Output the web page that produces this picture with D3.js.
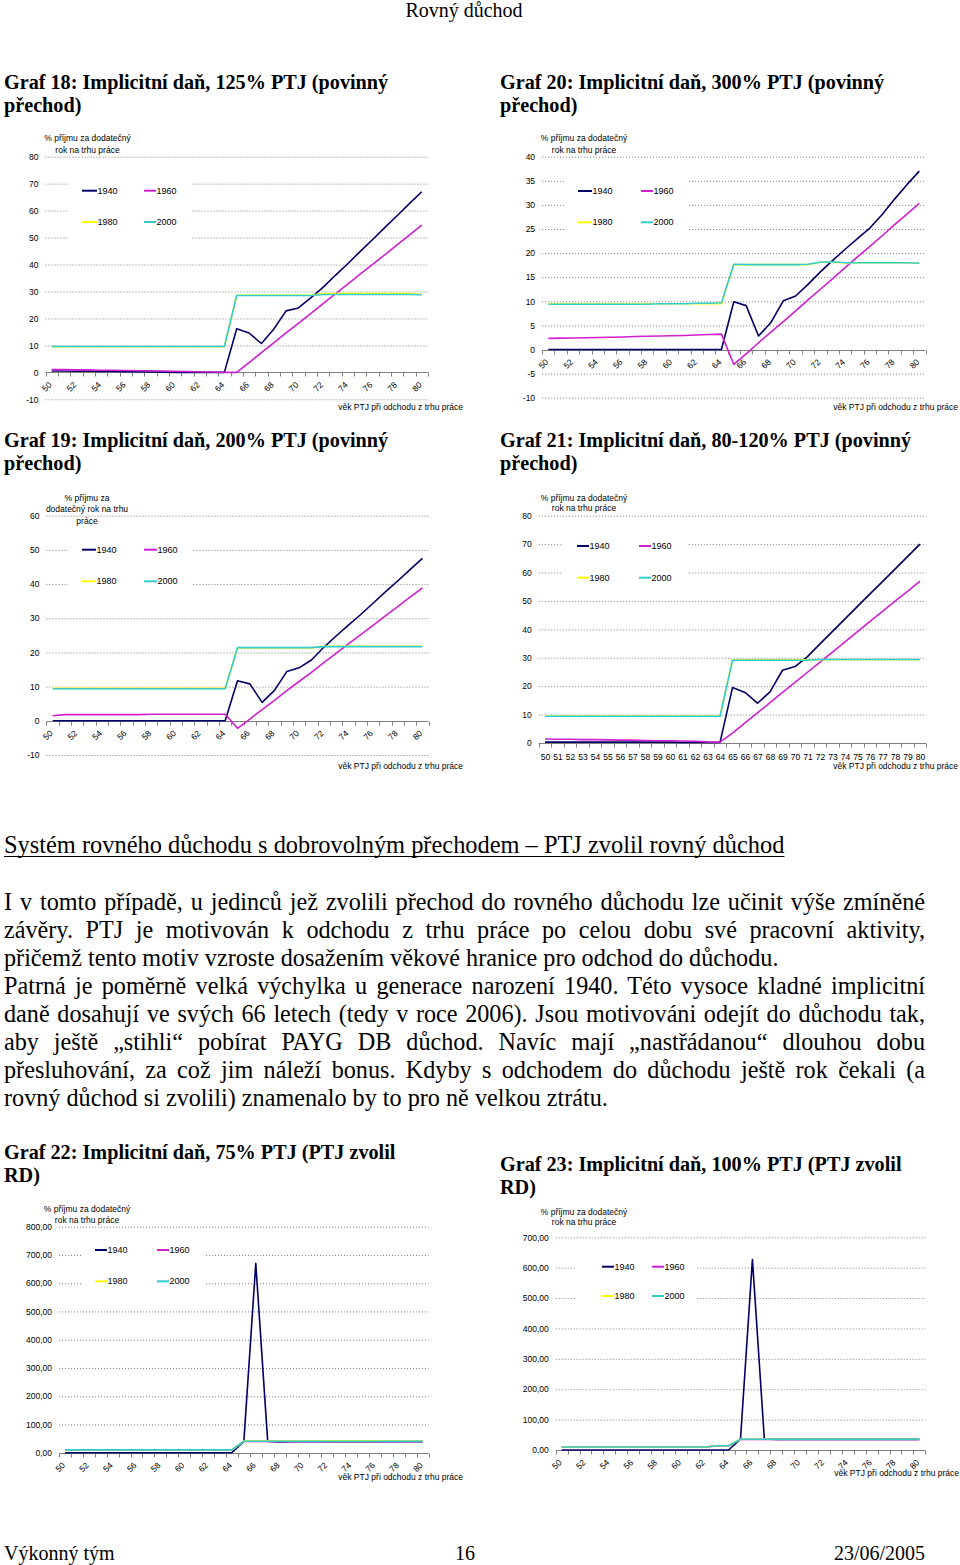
<!DOCTYPE html>
<html>
<head>
<meta charset="utf-8">
<script src="https://cdnjs.cloudflare.com/ajax/libs/d3/7.8.5/d3.min.js"></script>
<style>
  body { margin: 0; background: #fff; }
  svg { display: block; }
</style>
</head>
<body>
<script>
const pageWidth = 960;
const pageHeight = 1565;

const serifFont = '"Liberation Serif", "Times New Roman", serif';
const sansFont = '"Liberation Sans", Arial, sans-serif';

// categories (age when leaving the labour market)
const ages = [50, 51, 52, 53, 54, 55, 56, 57, 58, 59, 60, 61, 62, 63, 64, 65,
  66, 67, 68, 69, 70, 71, 72, 73, 74, 75, 76, 77, 78, 79, 80];
const evenAges = [50, 52, 54, 56, 58, 60, 62, 64, 66, 68, 70, 72, 74, 76, 78, 80];

const seriesNames = ['1940', '1960', '1980', '2000'];
const seriesColors = ['#000066', '#d11fd1', '#ffff00', '#33cccc'];

// Graf 18: 125% PTJ
const g18s1940 = [0.5, 0.5, 0.4, 0.4, 0.3, 0.3, 0.2, 0.2, 0.1, 0.1, 0, 0, 0, 0, 0,
  16.2, 14.6, 10.7, 16.0, 22.8, 23.9, 27.6, 31.5, 36.0, 40.3, 44.8, 49.2, 53.7, 58.1, 62.6, 67.0];
const g18s1960 = [1.0, 1.0, 0.9, 0.9, 0.8, 0.8, 0.7, 0.6, 0.6, 0.5, 0.4, 0.3, 0.2, 0.1, 0.0,
  0.0, 3.6, 7.3, 10.9, 14.6, 18.2, 21.8, 25.5, 29.1, 32.7, 36.4, 40.0, 43.6, 47.3, 50.9, 54.6];
const g18s1980 = [9.5, 9.5, 9.5, 9.5, 9.5, 9.5, 9.5, 9.5, 9.5, 9.5, 9.5, 9.5, 9.5, 9.5, 9.5,
  28.6, 28.6, 28.6, 28.6, 28.6, 28.6, 28.6, 29.2, 29.2, 29.2, 29.2, 29.2, 29.2, 29.2, 29.2, 28.9];
const g18s2000 = [9.6, 9.6, 9.6, 9.6, 9.6, 9.6, 9.6, 9.6, 9.6, 9.6, 9.6, 9.6, 9.6, 9.6, 9.6,
  28.5, 28.5, 28.5, 28.5, 28.5, 28.5, 28.5, 28.9, 28.9, 28.9, 28.9, 28.9, 28.9, 28.9, 28.9, 28.8];

// Graf 20: 300% PTJ
const g20s1940 = [0, 0, 0, 0, 0, 0, 0, 0, 0, 0, 0, 0, 0, 0, 0,
  9.9, 9.1, 2.8, 5.6, 10.1, 11.1, 13.5, 16.1, 18.5, 20.8, 23.0, 25.2, 28.0, 31.2, 34.2, 37.0];
const g20s1960 = [2.3, 2.35, 2.4, 2.45, 2.5, 2.55, 2.6, 2.7, 2.75, 2.8, 2.85, 2.9, 3.0, 3.1, 3.2,
  -3.1, -0.9, 1.4, 3.6, 5.8, 8.0, 10.3, 12.5, 14.7, 17.0, 19.2, 21.4, 23.6, 25.9, 28.1, 30.3];
const g20s1980 = [9.5, 9.5, 9.5, 9.5, 9.5, 9.5, 9.5, 9.5, 9.5, 9.5, 9.5, 9.5, 9.5, 9.5, 9.5,
  17.6, 17.6, 17.6, 17.6, 17.6, 17.6, 17.6, 18.1, 18.1, 18.0, 18.0, 18.0, 18.0, 18.0, 18.0, 17.9];
const g20s2000 = [9.4, 9.4, 9.4, 9.4, 9.4, 9.4, 9.4, 9.4, 9.4, 9.5, 9.5, 9.5, 9.6, 9.6, 9.7,
  17.7, 17.6, 17.6, 17.6, 17.6, 17.6, 17.7, 18.1, 18.2, 18.0, 18.0, 18.0, 18.0, 18.0, 18.0, 17.9];

// Graf 19: 200% PTJ
const g19s1940 = [0, 0, 0, 0, 0, 0, 0, 0, 0, 0, 0, 0, 0, 0, 0,
  11.7, 10.8, 5.4, 8.9, 14.4, 15.5, 17.8, 21.5, 24.8, 28.0, 31.1, 34.4, 37.7, 40.9, 44.2, 47.5];
const g19s1960 = [1.5, 1.8, 1.8, 1.8, 1.8, 1.8, 1.8, 1.8, 1.9, 1.9, 1.9, 1.9, 1.9, 1.9, 1.9,
  -2.2, 0.5, 3.3, 6.0, 8.8, 11.5, 14.2, 17.0, 19.7, 22.5, 25.2, 27.9, 30.7, 33.4, 36.2, 38.9];
const g19s1980 = [9.5, 9.5, 9.5, 9.5, 9.5, 9.5, 9.5, 9.5, 9.5, 9.5, 9.5, 9.5, 9.5, 9.5, 9.5,
  21.3, 21.3, 21.3, 21.3, 21.3, 21.3, 21.3, 21.8, 21.8, 21.8, 21.8, 21.8, 21.8, 21.8, 21.8, 21.8];
const g19s2000 = [9.4, 9.4, 9.4, 9.4, 9.4, 9.4, 9.4, 9.4, 9.4, 9.4, 9.4, 9.4, 9.4, 9.4, 9.4,
  21.4, 21.4, 21.4, 21.4, 21.4, 21.4, 21.4, 21.7, 21.7, 21.7, 21.7, 21.7, 21.7, 21.7, 21.7, 21.7];

// Graf 21: 80-120% PTJ
const g21s1940 = [0.3, 0.3, 0.3, 0.3, 0.3, 0.3, 0.3, 0.3, 0.3, 0.3, 0.3, 0.2, 0.2, 0.2, 0.2,
  19.5, 17.8, 14.0, 18.0, 25.6, 26.9, 30.4, 34.9, 39.3, 43.7, 48.1, 52.5, 56.8, 61.2, 65.6, 70.0];
const g21s1960 = [1.4, 1.3, 1.3, 1.2, 1.2, 1.1, 1.0, 1.0, 0.9, 0.8, 0.8, 0.7, 0.6, 0.4, 0.3,
  3.5, 7.1, 10.6, 14.2, 17.8, 21.3, 24.9, 28.5, 32.0, 35.6, 39.2, 42.8, 46.3, 49.9, 53.4, 57.0];
const g21s1980 = [9.5, 9.5, 9.5, 9.5, 9.5, 9.5, 9.5, 9.5, 9.5, 9.5, 9.5, 9.5, 9.5, 9.5, 9.5,
  29.3, 29.3, 29.3, 29.3, 29.3, 29.3, 29.3, 29.3, 29.3, 29.3, 29.3, 29.3, 29.3, 29.3, 29.3, 29.3];
const g21s2000 = [9.4, 9.4, 9.4, 9.4, 9.4, 9.4, 9.4, 9.4, 9.4, 9.4, 9.4, 9.4, 9.4, 9.4, 9.4,
  29.1, 29.1, 29.1, 29.1, 29.1, 29.1, 29.1, 29.4, 29.4, 29.4, 29.4, 29.4, 29.4, 29.4, 29.4, 29.4];

// Graf 22: 75% PTJ (PTJ zvolil RD)
const g22s1940 = [0, 0, 0, 0, 0, 0, 0, 0, 0, 0, 0, 0, 0, 0, 0,
  40, 670, 40, 38, 39, 39, 39, 39, 39, 39, 39, 39, 39, 39, 39, 39];
const g22s1960 = [9, 9, 9, 9, 9, 9, 9, 9, 9, 9, 9, 9, 9, 9, 9,
  40, 40, 40, 40, 40, 40, 40, 40, 40, 40, 40, 40, 40, 40, 40, 40];
const g22s1980 = [9.5, 9.5, 9.5, 9.5, 9.5, 9.5, 9.5, 9.5, 9.5, 9.5, 9.5, 9.5, 9.5, 9.5, 9.5,
  41, 41, 41, 41, 41, 41, 41, 42, 42, 42, 42, 42, 41, 41, 41, 41];
const g22s2000 = [10, 10, 10, 10, 10, 10, 10, 10, 10, 10, 10, 10, 10, 10, 10,
  40.5, 40.5, 40.5, 40.5, 40.5, 40.5, 40.5, 40.5, 40.5, 40.5, 40.5, 40.5, 40.5, 40.5, 40.5, 40.5];

// Graf 23: 100% PTJ (PTJ zvolil RD)
const g23s1940 = [0, 0, 0, 0, 0, 0, 0, 0, 0, 0, 0, 0, 0, 0, 0,
  36, 627, 36, 35, 35, 35, 35, 35, 35, 35, 35, 35, 35, 35, 35, 35];
const g23s1960 = [9.5, 9.5, 9.5, 9.5, 9.5, 9.5, 9.5, 9.5, 9.5, 9.5, 9.5, 9.5, 9.5, 13, 13,
  35, 35, 35, 35, 35, 35, 35, 35, 35, 35, 35, 35, 35, 35, 35, 35];
const g23s1980 = [10, 10, 10, 10, 10, 10, 10, 10, 10, 10, 10, 10, 10, 14, 14,
  35.5, 35.5, 35.5, 35.5, 35.5, 35.5, 35.5, 35.5, 35.5, 35.5, 35.5, 35.5, 35.5, 35.5, 35.5, 35.5];
const g23s2000 = [10, 10, 10, 10, 10, 10, 10, 10, 10, 10, 10, 10, 10, 14, 14,
  35.5, 35.5, 35.5, 35.5, 35.5, 35.5, 35.5, 35.5, 35.5, 35.5, 35.5, 35.5, 35.5, 35.5, 35.5, 35.5];

// y tick values
const ticks18 = [80, 70, 60, 50, 40, 30, 20, 10, 0, -10];
const ticks20 = [40, 35, 30, 25, 20, 15, 10, 5, 0, -5, -10];
const ticks19 = [60, 50, 40, 30, 20, 10, 0, -10];
const ticks21 = [80, 70, 60, 50, 40, 30, 20, 10, 0];
const ticks22 = [800, 700, 600, 500, 400, 300, 200, 100, 0];
const ticks23 = [700, 600, 500, 400, 300, 200, 100, 0];

const yTitle2 = ['% příjmu za dodatečný', 'rok na trhu práce'];
const yTitle3 = ['% příjmu za', 'dodatečný rok na trhu', 'práce'];
const xTitle = 'věk PTJ při odchodu z trhu práce';

const commaFormat = d => d3.format('.2f')(d).replace('.', ',');

const svg = d3.select('body')
  .append('svg')
  .attr('width', pageWidth)
  .attr('height', pageHeight);

svg.append('rect')
  .attr('width', pageWidth)
  .attr('height', pageHeight)
  .attr('fill', '#fff');

function drawChart(cfg) {
  const g = svg.append('g');
  const x = d3.scalePoint().domain(ages).range(cfg.xRange).padding(0.5);
  const y = d3.scaleLinear().domain(cfg.yDomain).range(cfg.yRange);
  const [left, right] = cfg.xRange;
  const step = x.step();
  const y0 = y(0);

  // dotted gridlines and y labels
  const yAxis = d3.axisLeft(y)
    .tickValues(cfg.yTicks)
    .tickSize(-(right - left))
    .tickPadding(7)
    .tickFormat(cfg.yFormat || (d => d));
  const yG = g.append('g')
    .attr('transform', `translate(${left},0)`)
    .call(yAxis);
  yG.select('.domain').remove();
  yG.selectAll('line')
    .attr('stroke', '#7d7d7d')
    .attr('stroke-dasharray', '1,2')
    .attr('stroke-opacity', d => d === 0 ? 0 : 1);
  yG.selectAll('text')
    .attr('font-family', sansFont)
    .attr('font-size', 8.5)
    .attr('fill', '#000');

  // legend background hides the gridlines
  const lg = cfg.legend;
  g.append('rect')
    .attr('x', lg.box[0])
    .attr('y', lg.box[1])
    .attr('width', lg.box[2])
    .attr('height', lg.box[3])
    .attr('fill', '#fff');

  // category axis
  g.append('line')
    .attr('x1', left)
    .attr('x2', right)
    .attr('y1', Math.round(y0) + 0.5)
    .attr('y2', Math.round(y0) + 0.5)
    .attr('stroke', '#808080');
  const bounds = ages.map(a => x(a) - step / 2).concat([right]);
  g.selectAll('.xtick')
    .data(bounds)
    .join('line')
    .attr('x1', d => Math.round(d) + 0.5)
    .attr('x2', d => Math.round(d) + 0.5)
    .attr('y1', Math.round(y0) + 0.5)
    .attr('y2', Math.round(y0) + 4.5)
    .attr('stroke', '#808080');

  const xAxis = d3.axisBottom(x)
    .tickValues(cfg.rotate ? evenAges : ages)
    .tickSize(0);
  const xG = g.append('g')
    .attr('transform', `translate(0,${y0})`)
    .call(xAxis);
  xG.select('.domain').remove();
  const xText = xG.selectAll('text')
    .attr('font-family', sansFont)
    .attr('font-size', 8.5)
    .attr('fill', '#000')
    .attr('dy', '0.35em');
  if (cfg.rotate) {
    xText.attr('x', 0)
      .attr('y', 0)
      .attr('text-anchor', 'end')
      .attr('transform', 'translate(-2,11) rotate(-45)');
  } else {
    xText.attr('y', 13.7);
  }

  // series
  const line = d3.line()
    .x((d, i) => x(ages[i]))
    .y(d => y(d));
  g.selectAll('.series')
    .data(cfg.series)
    .join('path')
    .attr('d', d => line(d))
    .attr('fill', 'none')
    .attr('stroke', (d, i) => seriesColors[i])
    .attr('stroke-width', 1.6)
    .attr('stroke-linejoin', 'round');

  // legend
  seriesNames.forEach((name, i) => {
    const col = i % 2;
    const row = Math.floor(i / 2);
    const [lx1, lx2] = lg.cols[col];
    const ly = lg.rows[row];
    g.append('line')
      .attr('x1', lx1)
      .attr('x2', lx2)
      .attr('y1', ly)
      .attr('y2', ly)
      .attr('stroke', seriesColors[i])
      .attr('stroke-width', 2);
    g.append('text')
      .attr('x', lx2 + 0.5)
      .attr('y', ly)
      .attr('dy', '0.35em')
      .attr('font-family', sansFont)
      .attr('font-size', 9)
      .attr('fill', '#000')
      .text(name);
  });

  // axis titles
  cfg.yTitle.forEach((t, i) => {
    g.append('text')
      .attr('x', cfg.yTitlePos[0])
      .attr('y', cfg.yTitlePos[1] + i * cfg.yTitlePos[2])
      .attr('dy', '0.35em')
      .attr('text-anchor', 'middle')
      .attr('font-family', sansFont)
      .attr('font-size', 8.5)
      .attr('fill', '#000')
      .text(t);
  });
  g.append('text')
    .attr('x', cfg.xTitlePos[0])
    .attr('y', cfg.xTitlePos[1])
    .attr('dy', '0.35em')
    .attr('text-anchor', 'end')
    .attr('font-family', sansFont)
    .attr('font-size', 8.5)
    .attr('fill', '#000')
    .text(xTitle);
}

drawChart({
  series: [g18s1940, g18s1960, g18s1980, g18s2000],
  xRange: [45.5, 427.9], yDomain: [-10, 80], yRange: [399.3, 156.7], yTicks: ticks18,
  rotate: true,
  legend: { box: [68, 175, 124, 70], rows: [190.7, 222], cols: [[82, 97], [144, 156]] },
  yTitle: yTitle2, yTitlePos: [87.5, 138, 11.7], xTitlePos: [463, 407]
});
drawChart({
  series: [g20s1940, g20s1960, g20s1980, g20s2000],
  xRange: [542.1, 925.5], yDomain: [-10, 40], yRange: [397.7, 156.7], yTicks: ticks20,
  rotate: true,
  legend: { box: [564, 172, 124, 70], rows: [191, 222.3], cols: [[578, 592], [641, 653]] },
  yTitle: yTitle2, yTitlePos: [584, 138.3, 11.4], xTitlePos: [958, 407]
});
drawChart({
  series: [g19s1940, g19s1960, g19s1980, g19s2000],
  xRange: [46.5, 428.5], yDomain: [-10, 60], yRange: [755, 515.7], yTicks: ticks19,
  rotate: true,
  legend: { box: [68, 535, 124, 63], rows: [549.7, 581.3], cols: [[82, 96], [144, 157]] },
  yTitle: yTitle3, yTitlePos: [87, 498.3, 11.2], xTitlePos: [463, 766]
});
drawChart({
  series: [g21s1940, g21s1960, g21s1980, g21s2000],
  xRange: [538.75, 926.25], yDomain: [0, 80], yRange: [743, 515.7], yTicks: ticks21,
  rotate: false,
  legend: { box: [563, 532, 125, 56], rows: [546, 577.7], cols: [[577, 589], [639, 651]] },
  yTitle: yTitle2, yTitlePos: [584, 497.7, 10.6], xTitlePos: [958, 766]
});
drawChart({
  series: [g22s1940, g22s1960, g22s1980, g22s2000],
  xRange: [59, 428.7], yDomain: [0, 800], yRange: [1452.7, 1226.7], yTicks: ticks22,
  yFormat: commaFormat, rotate: true,
  legend: { box: [81, 1238, 123, 67], rows: [1250, 1281.3], cols: [[95, 107], [157, 169]] },
  yTitle: yTitle2, yTitlePos: [87, 1209, 10.7], xTitlePos: [463, 1477.3]
});
drawChart({
  series: [g23s1940, g23s1960, g23s1980, g23s2000],
  xRange: [555.7, 925.3], yDomain: [0, 700], yRange: [1450, 1237.3], yTicks: ticks23,
  yFormat: commaFormat, rotate: true,
  legend: { box: [575, 1255, 122, 53], rows: [1266.7, 1296], cols: [[602, 614], [652, 664]] },
  yTitle: yTitle2, yTitlePos: [584, 1211.7, 10.6], xTitlePos: [959, 1473.3]
});

// document text
function docLine(str, x, y, size, opts = {}) {
  const t = svg.append('text')
    .attr('x', x)
    .attr('y', y)
    .attr('font-family', serifFont)
    .attr('font-size', size)
    .attr('font-weight', opts.bold ? 'bold' : 'normal')
    .attr('text-anchor', opts.anchor || 'start')
    .attr('fill', '#000')
    .text(str);
  if (opts.justify) {
    const natural = t.node().getComputedTextLength();
    const gaps = str.split(' ').length - 1;
    t.style('word-spacing', `${(opts.justify - natural) / gaps}px`);
  }
  if (opts.underline) {
    const w = t.node().getComputedTextLength();
    svg.append('line')
      .attr('x1', x)
      .attr('x2', x + w)
      .attr('y1', y + 3.5)
      .attr('y2', y + 3.5)
      .attr('stroke', '#000')
      .attr('stroke-width', 1.2);
  }
  return t;
}

docLine('Rovný důchod', 464, 17, 20, { anchor: 'middle' });

const titleSize = 20.2;
docLine('Graf 18: Implicitní daň, 125% PTJ (povinný', 4, 89, titleSize, { bold: true });
docLine('přechod)', 4, 112, titleSize, { bold: true });
docLine('Graf 20: Implicitní daň, 300% PTJ (povinný', 500, 89, titleSize, { bold: true });
docLine('přechod)', 500, 112, titleSize, { bold: true });
docLine('Graf 19: Implicitní daň, 200% PTJ (povinný', 4, 447, titleSize, { bold: true });
docLine('přechod)', 4, 470, titleSize, { bold: true });
docLine('Graf 21: Implicitní daň, 80-120% PTJ (povinný', 500, 447, titleSize, { bold: true });
docLine('přechod)', 500, 470, titleSize, { bold: true });

docLine('Systém rovného důchodu s dobrovolným přechodem – PTJ zvolil rovný důchod', 4, 853, 24.4, { underline: true });

const bodyLines = [
  ['I v tomto případě, u jedinců jež zvolili přechod do rovného důchodu lze učinit výše zmíněné', true],
  ['závěry. PTJ je motivován k odchodu z trhu práce po celou dobu své pracovní aktivity,', true],
  ['přičemž tento motiv vzroste dosažením věkové hranice pro odchod do důchodu.', false],
  ['Patrná je poměrně velká výchylka u generace narození 1940. Této vysoce kladné implicitní', true],
  ['daně dosahují ve svých 66 letech (tedy v roce 2006). Jsou motivováni odejít do důchodu tak,', true],
  ['aby ještě \u201Estihli\u201C pobírat PAYG DB důchod. Navíc mají \u201Enastřádanou\u201C dlouhou dobu', true],
  ['přesluhování, za což jim náleží bonus. Kdyby s odchodem do důchodu ještě rok čekali (a', true],
  ['rovný důchod si zvolili) znamenalo by to pro ně velkou ztrátu.', false]
];
bodyLines.forEach(([str, just], i) => {
  docLine(str, 4, 910 + i * 28, 24.2, { justify: just ? 921 : 0 });
});

docLine('Graf 22: Implicitní daň, 75% PTJ (PTJ zvolil', 4, 1159, titleSize, { bold: true });
docLine('RD)', 4, 1182, titleSize, { bold: true });
docLine('Graf 23: Implicitní daň, 100% PTJ (PTJ zvolil', 500, 1171, titleSize, { bold: true });
docLine('RD)', 500, 1194, titleSize, { bold: true });

docLine('Výkonný tým', 4, 1560, 20);
docLine('16', 465, 1560, 20, { anchor: 'middle' });
docLine('23/06/2005', 925, 1560, 20, { anchor: 'end' });
</script>
</body>
</html>
